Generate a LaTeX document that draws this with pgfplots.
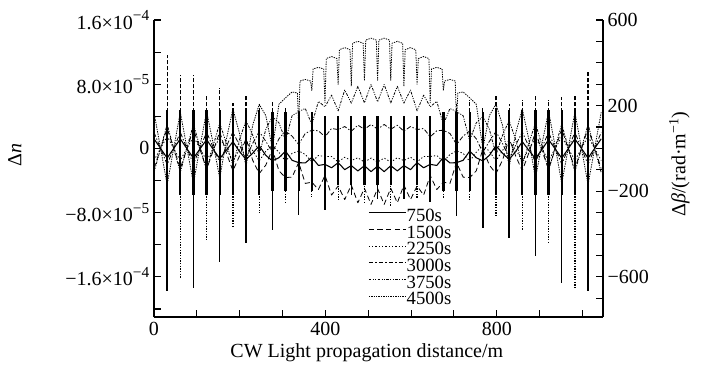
\documentclass[border=0pt]{standalone}
\usepackage{fontspec}
\setmainfont{Liberation Serif}
\usepackage{pgfplots}
\usepackage{pgfplotstable}
\pgfplotsset{compat=1.18}
\newcommand{\supx}[1]{\raisebox{0.42em}{\fontsize{11.5}{12}\selectfont #1}}

% values of Delta n in units of 1e-5
\pgfplotstableread{
x A B C D E
0 1.2 -2.5 -1.5 2.0 -3.0
15.35 0 0 0 0 0
30.7 -1.2 2.5 1.5 -2.0 3.0
46.05 0 0 0 0 0
61.4 1.19 -2.51 -1.50 2.00 -2.97
76.75 -0.02 -0.04 -0.01 0.02 0.05
92.1 -1.21 2.42 1.46 -1.95 3.03
107.45 -0.05 -0.13 -0.02 0.05 0.14
122.8 1.10 -2.57 -1.51 2.01 -2.75
138.15 -0.12 -0.29 -0.05 0.13 0.34
153.5 -1.26 2.06 1.31 -1.74 3.17
168.85 -0.23 -0.56 -0.10 0.24 0.64
184.2 0.84 -2.77 -1.52 2.04 -2.07
199.55 -0.39 -0.95 -0.16 0.41 1.09
214.9 -1.37 1.23 0.96 -1.25 3.48
230.25 -0.60 -1.46 -0.25 0.62 1.66
245.6 0.35 -3.13 -1.55 2.10 -0.79
260.95 -0.86 -2.08 -0.36 0.89 2.38
276.3 -1.55 -0.10 0.39 -0.47 3.97
291.65 -1.16 -2.79 -0.48 1.20 3.19
307.0 -0.34 -3.63 -1.59 2.18 0.99
322.35 -1.48 -3.57 -0.61 1.53 4.08
337.7 -1.77 -1.75 -0.31 0.50 4.59
353.05 -1.81 -4.36 -0.75 1.87 4.98
368.4 -1.11 -4.20 -1.64 2.27 2.98
383.75 -2.12 -5.12 -0.88 2.20 5.86
399.1 -1.98 -3.37 -1.01 1.45 5.19
414.45 -2.41 -5.81 -1.00 2.49 6.64
429.8 -1.77 -4.68 -1.68 2.35 4.68
445.15 -2.64 -6.37 -1.09 2.73 7.28
460.5 -2.14 -4.56 -1.51 2.14 5.64
475.85 -2.80 -6.77 -1.16 2.90 7.74
491.2 -2.15 -4.96 -1.70 2.39 5.67
506.55 -2.89 -6.97 -1.20 2.99 7.97
521.9 -2.20 -5.00 -1.70 2.40 5.80
537.25 -2.89 -6.97 -1.20 2.99 7.97
552.6 -2.15 -4.96 -1.70 2.39 5.67
567.95 -2.80 -6.77 -1.16 2.90 7.74
583.3 -2.14 -4.56 -1.51 2.14 5.64
598.65 -2.64 -6.37 -1.09 2.73 7.28
614.0 -1.77 -4.68 -1.68 2.35 4.68
629.35 -2.41 -5.81 -1.00 2.49 6.64
644.7 -1.98 -3.37 -1.01 1.45 5.19
660.05 -2.12 -5.12 -0.88 2.20 5.86
675.4 -1.11 -4.20 -1.64 2.27 2.98
690.75 -1.81 -4.36 -0.75 1.87 4.98
706.1 -1.77 -1.75 -0.31 0.50 4.59
721.45 -1.48 -3.57 -0.61 1.53 4.08
736.8 -0.34 -3.63 -1.59 2.18 0.99
752.15 -1.16 -2.79 -0.48 1.20 3.19
767.5 -1.55 -0.10 0.39 -0.47 3.97
782.85 -0.86 -2.08 -0.36 0.89 2.38
798.2 0.35 -3.13 -1.55 2.10 -0.79
813.55 -0.60 -1.46 -0.25 0.62 1.66
828.9 -1.37 1.23 0.96 -1.25 3.48
844.25 -0.39 -0.95 -0.16 0.41 1.09
859.6 0.84 -2.77 -1.52 2.04 -2.07
874.95 -0.23 -0.56 -0.10 0.24 0.64
890.3 -1.26 2.06 1.31 -1.74 3.17
905.65 -0.12 -0.29 -0.05 0.13 0.34
921.0 1.10 -2.57 -1.51 2.01 -2.75
936.35 -0.05 -0.13 -0.02 0.05 0.14
951.7 -1.21 2.42 1.46 -1.95 3.03
967.05 -0.02 -0.04 -0.01 0.02 0.05
982.4 1.19 -2.51 -1.50 2.00 -2.97
997.75 0 0 0 0 0
1013.1 -1.2 2.5 1.5 -2.0 3.0
1028.45 0 0 0 0 0
1043.8 1.2 -2.5 -1.5 2.0 -3.0
}\curves

% 4500 s series (units of 1e-5), with notches at the grating positions
\pgfplotstableread{
x F
0 4.5
15.35 0
30.7 -4.5
46.05 0.01
61.4 4.51
76.75 0.08
92.1 -4.36
107.45 0.25
122.8 4.61
138.15 0.58
153.5 -3.73
168.85 1.10
184.2 4.92
199.55 1.88
214.9 -2.29
230.25 2.87
245.6 5.50
260.95 4.10
276.3 0.01
291.65 5.51
307.0 6.31
322.35 7.04
334.7 6.9
337.7 2.87
340.7 8.4
353.05 8.60
365.4 8.4
368.4 7.22
371.4 9.9
383.75 10.10
396.1 9.9
399.1 5.68
402.1 11.2
414.45 11.45
426.8 11.2
429.8 7.99
432.8 12.3
445.15 12.56
457.5 12.3
460.5 7.73
463.5 13.1
475.85 13.34
488.2 13.1
491.2 8.44
494.2 13.5
506.55 13.74
518.9 13.5
521.9 8.50
524.9 13.5
537.25 13.74
549.6 13.5
552.6 8.44
555.6 13.1
567.95 13.34
580.3 13.1
583.3 7.73
586.3 12.3
598.65 12.56
611.0 12.3
614.0 7.99
617.0 11.2
629.35 11.45
641.7 11.2
644.7 5.68
647.7 9.9
660.05 10.10
672.4 9.9
675.4 7.22
678.4 8.4
690.75 8.60
703.1 8.4
706.1 2.87
709.1 6.9
721.45 7.04
736.8 6.31
752.15 5.51
767.5 0.01
782.85 4.10
798.2 5.50
813.55 2.87
828.9 -2.29
844.25 1.88
859.6 4.92
874.95 1.10
890.3 -3.73
905.65 0.58
921.0 4.61
936.35 0.25
951.7 -4.36
967.05 0.08
982.4 4.51
997.75 0.01
1013.1 -4.5
1028.45 0
1043.8 4.5
}\fourk

\begin{document}
\begin{tikzpicture}
\path[use as bounding box] (-115.5pt,-49.5pt) rectangle (416.25pt,237.75pt);
\begin{axis}[
  at={(0pt,0pt)}, anchor=south west,
  scale only axis, width=336.75pt, height=222.75pt,
  xmin=0, xmax=1048, ymin=-21, ymax=16,
  axis x line*=bottom, axis y line*=left,
  axis line style={line width=1pt},
  tick align=inside,
  major tick length=5pt, minor tick length=5pt,
  every tick/.style={black, line width=0.8pt},
  xtick={0,400,800}, xticklabels={0,400,800},
  minor xtick={100,200,300,500,600,700,900,1000},
  ytick={-16,-8,0,8,16},
  yticklabels={−1.6×10\supx{−4},−8.0×10\supx{−5},0,8.0×10\supx{−5},1.6×10\supx{−4}},
  minor ytick={-20,-12,-4,4,12},
  tick label style={font=\fontsize{15}{18}\selectfont},
  label style={font=\fontsize{15}{18}\selectfont},
  xlabel={CW Light propagation distance/m},
  xlabel style={at={(axis description cs:0.474,-0.121)}, anchor=center},
  ylabel={Δ\textit{n}},
  ylabel style={at={(axis description cs:-0.31,0.545)}, anchor=center},
  every axis plot/.append style={line join=round},
  legend style={at={(rel axis cs:0.4766,0.367)}, anchor=north west, draw=none, fill=none,
    font=\fontsize{14}{14}\selectfont, row sep=0pt, inner sep=0pt,
    nodes={inner sep=0.3pt, text height=9.6pt, text depth=2.3pt}},
  legend cell align=left,
  legend image code/.code={\draw[#1] (0pt,3pt) -- (27.75pt,3pt);},
]
\addplot[black, line width=0.8pt] table[x=x,y=A] {\curves};
\addlegendentry{750s}
\addplot[black, line width=0.6pt, dash pattern=on 4pt off 2.5pt] table[x=x,y=B] {\curves};
\addlegendentry{1500s}
\addplot[black, line width=0.6pt, dash pattern=on 1pt off 1.5pt] table[x=x,y=C] {\curves};
\addlegendentry{2250s}
\addplot[black, line width=0.6pt, dash pattern=on 3.5pt off 1.5pt on 1pt off 1.5pt] table[x=x,y=D] {\curves};
\addlegendentry{3000s}
\addplot[black, line width=0.6pt, dash pattern=on 2pt off 1pt on 0.8pt off 1pt on 0.8pt off 1pt] table[x=x,y=E] {\curves};
\addlegendentry{3750s}
\addplot[black, line width=0.6pt, dash pattern=on 1pt off 0.8pt] table[x=x,y=F] {\fourk};
\addlegendentry{4500s}

% spike cores
\addplot[black, line width=1.7pt, unbounded coords=jump, forget plot] coordinates {
(30.7,-5.8) (30.7,4.8) (30.7,nan) (61.4,-5.8) (61.4,4.8) (61.4,nan)
(92.1,-5.8) (92.1,4.8) (92.1,nan) (122.8,-5.8) (122.8,4.8) (122.8,nan)
(153.5,-5.8) (153.5,4.8) (153.5,nan) (184.2,-5.8) (184.2,4.8) (184.2,nan)
(214.9,-5.8) (214.9,4.8) (214.9,nan) (245.6,-5.8) (245.6,4.8) (245.6,nan)
(276.3,-5.3) (276.3,4.5) (276.3,nan) (307.0,-5.3) (307.0,4.5) (307.0,nan)
(337.7,-5.3) (337.7,4.5) (337.7,nan) (368.4,-5.3) (368.4,4.5) (368.4,nan)
(399.1,-4.6) (399.1,4.1) (399.1,nan) (429.8,-4.6) (429.8,4.1) (429.8,nan)
(460.5,-4.6) (460.5,4.1) (460.5,nan) (491.2,-4.6) (491.2,4.1) (491.2,nan)
(521.9,-4.6) (521.9,4.1) (521.9,nan) (552.6,-4.6) (552.6,4.1) (552.6,nan)
(583.3,-4.6) (583.3,4.1) (583.3,nan) (614.0,-4.6) (614.0,4.1) (614.0,nan)
(644.7,-4.6) (644.7,4.1) (644.7,nan) (675.4,-5.3) (675.4,4.5) (675.4,nan)
(706.1,-5.3) (706.1,4.5) (706.1,nan) (736.8,-5.3) (736.8,4.5) (736.8,nan)
(767.5,-5.3) (767.5,4.5) (767.5,nan) (798.2,-5.8) (798.2,4.8) (798.2,nan)
(828.9,-5.8) (828.9,4.8) (828.9,nan) (859.6,-5.8) (859.6,4.8) (859.6,nan)
(890.3,-5.8) (890.3,4.8) (890.3,nan) (921.0,-5.8) (921.0,4.8) (921.0,nan)
(951.7,-5.8) (951.7,4.8) (951.7,nan) (982.4,-5.8) (982.4,4.8) (982.4,nan)
(1013.1,-5.8) (1013.1,4.8)
};
% solid lower spikes
\addplot[black, line width=1.1pt, unbounded coords=jump, forget plot] coordinates {
(30.7,0) (30.7,-17.8) (30.7,nan) (92.1,0) (92.1,-17.4) (92.1,nan)
(153.5,0) (153.5,-14.2) (153.5,nan) (214.9,0) (214.9,-11.8) (214.9,nan)
(276.3,0) (276.3,-10.2) (276.3,nan) (337.7,0) (337.7,-8.3) (337.7,nan)
(399.1,0) (399.1,-7.7) (399.1,nan) (460.5,0) (460.5,-5.8) (460.5,nan)
(521.9,0) (521.9,-6.3) (521.9,nan) (583.3,0) (583.3,-6.3) (583.3,nan)
(644.7,0) (644.7,-6.7) (644.7,nan) (706.1,0) (706.1,-8.4) (706.1,nan)
(767.5,0) (767.5,-9.9) (767.5,nan) (828.9,0) (828.9,-11.2) (828.9,nan)
(890.3,0) (890.3,-13.4) (890.3,nan) (951.7,0) (951.7,-16.8) (951.7,nan)
(1013.1,0) (1013.1,-17.8)
};
% dotted lower spikes
\addplot[black, line width=0.9pt, dash pattern=on 1pt off 1pt, unbounded coords=jump, forget plot] coordinates {
(61.4,0) (61.4,-16.2) (61.4,nan) (122.8,0) (122.8,-11.5) (122.8,nan)
(184.2,0) (184.2,-9.8) (184.2,nan) (245.6,0) (245.6,-8.1) (245.6,nan)
(307.0,0) (307.0,-6.9) (307.0,nan) (368.4,0) (368.4,-6.1) (368.4,nan)
(429.8,0) (429.8,-6.5) (429.8,nan) (491.2,0) (491.2,-6.8) (491.2,nan)
(552.6,0) (552.6,-7.2) (552.6,nan) (614.0,0) (614.0,-6.2) (614.0,nan)
(675.4,0) (675.4,-6.2) (675.4,nan) (736.8,0) (736.8,-6.5) (736.8,nan)
(798.2,0) (798.2,-8.6) (798.2,nan) (859.6,0) (859.6,-10.2) (859.6,nan)
(921.0,0) (921.0,-11.9) (921.0,nan) (982.4,0) (982.4,-17.5)
};
% dashed upper spikes
\addplot[black, line width=0.9pt, dash pattern=on 3pt off 1.5pt, unbounded coords=jump, forget plot] coordinates {
(30.7,0) (30.7,11.6) (30.7,nan) (61.4,0) (61.4,9.2) (61.4,nan)
(92.1,0) (92.1,9.2) (92.1,nan) (122.8,0) (122.8,6.6) (122.8,nan)
(153.5,0) (153.5,7.5) (153.5,nan) (184.2,0) (184.2,5.6) (184.2,nan)
(214.9,0) (214.9,6.6) (214.9,nan) (245.6,0) (245.6,5.5) (245.6,nan)
(276.3,0) (276.3,5.8) (276.3,nan) (307.0,0) (307.0,5.0) (307.0,nan)
(706.1,0) (706.1,5.5) (706.1,nan) (736.8,0) (736.8,6.0) (736.8,nan)
(767.5,0) (767.5,5.2) (767.5,nan) (798.2,0) (798.2,6.5) (798.2,nan)
(828.9,0) (828.9,5.5) (828.9,nan) (859.6,0) (859.6,6.0) (859.6,nan)
(890.3,0) (890.3,6.6) (890.3,nan) (921.0,0) (921.0,6.0) (921.0,nan)
(951.7,0) (951.7,6.4) (951.7,nan) (982.4,0) (982.4,6.6) (982.4,nan)
(1013.1,0) (1013.1,9.5)
};
\end{axis}
\begin{axis}[
  at={(0pt,0pt)}, anchor=south west,
  scale only axis, width=336.75pt, height=222.75pt,
  xmin=0, xmax=1048, ymin=-787.5, ymax=600,
  axis x line=none, axis y line*=right,
  axis line style={line width=1pt},
  tick align=inside,
  major tick length=5pt, minor tick length=5pt,
  every tick/.style={black, line width=0.8pt},
  ytick={-600,-200,200,600},
  yticklabels={−600,−200,200,600},
  minor ytick={-700,-500,-400,-300,-100,0,100,300,400,500},
  tick label style={font=\fontsize{15}{18}\selectfont},
  label style={font=\fontsize{15}{18}\selectfont},
  ylabel={Δ\textit{β}/(rad·m\textsuperscript{−1})},
  ylabel style={at={(axis description cs:1.17,0.515)}, anchor=center},
]
\addplot[draw=none, forget plot] coordinates {(0,0)};
\end{axis}
\end{tikzpicture}
\end{document}
